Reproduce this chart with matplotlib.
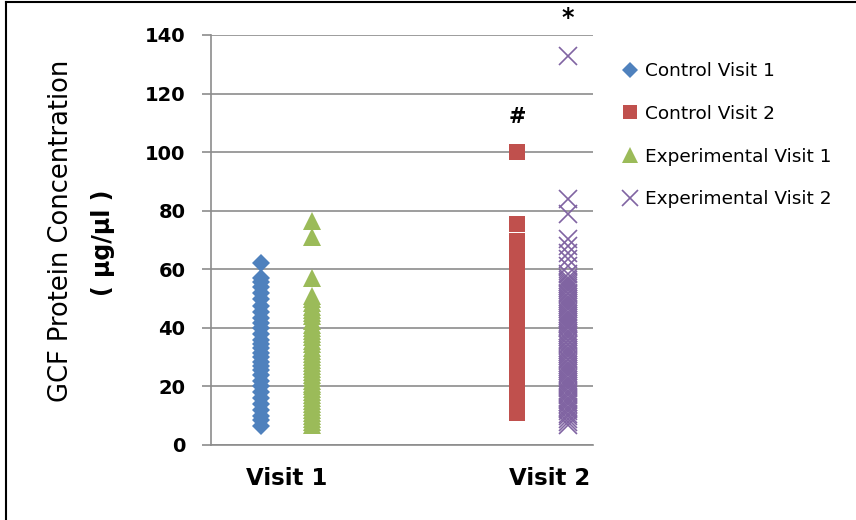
import matplotlib
matplotlib.use("Agg")
import matplotlib.pyplot as plt
from matplotlib.lines import Line2D

# ---- data -------------------------------------------------------------
visit_labels = ["Visit 1", "Visit 2"]
series_names = ["Control Visit 1", "Control Visit 2",
                "Experimental Visit 1", "Experimental Visit 2"]

control_visit1 = [62, 57, 55.5, 54, 52, 50, 47.5, 45.5, 43.5, 41.5, 40, 38,
                  36, 34.5, 33, 31.5, 30, 28.5, 27, 25.5, 24, 22, 20, 18,
                  16, 14, 12, 10, 8.5, 6.5]

control_visit2 = [100, 75.5, 69.8, 67.5, 65, 62.5, 60, 57.5, 55, 52.5, 50,
                  48, 46, 44, 42, 40, 38, 36, 34, 32, 30, 28, 26, 24, 22,
                  20, 18, 16, 14, 12.5, 11]

experimental_visit1 = [76.5, 71, 57, 51, 50, 48.5, 47, 46, 45, 44, 42.5,
                       41, 40, 39, 38, 37, 35.5, 34.5, 33, 32, 31, 30, 29,
                       28, 27, 26, 25, 24, 23, 22, 21, 20, 19, 18, 17, 16,
                       15, 14, 13, 12, 11, 10, 9, 8, 7]

experimental_visit2 = [133, 84, 79, 70.5, 68, 65.5, 63.5, 61, 58.5, 57,
                       56.4, 55.6, 55, 54.3, 53.5, 52.8, 52, 51.4, 50.6, 50,
                       49.2, 48.5, 47.8, 47, 46.3, 45.5, 44.9, 44, 43.4, 42.6,
                       42, 41.2, 40.5, 39.8, 39, 38.3, 37.6, 36.8, 36, 35.4,
                       34.6, 34, 33.2, 32.5, 31.8, 31, 30.3, 29.5, 28.9, 28,
                       27.4, 26.6, 26, 25.2, 24.5, 23.8, 23, 22.3, 21.5, 20.9,
                       20, 19.3, 18.5, 17.8, 17, 16.2, 15.5, 14.7, 14, 13.1,
                       12.3, 11.5, 10.6, 9.8, 9, 8, 7]

# positions of each series along the visit axis
visit_pos = [1.0, 2.0]
offset = 0.1

# ---- styling ----------------------------------------------------------
colors = ["#4F81BD", "#C0504D", "#9BBB59", "#8064A2"]
grid_color = "#8C8C8C"

fig = plt.figure(figsize=(8.56, 5.2), dpi=100)
ax = fig.add_axes([211 / 856, 1 - 445 / 520, 382 / 856, 410 / 520])

ax.set_xlim(0.703, 2.198)
ax.set_ylim(0, 140)

ax.plot([visit_pos[0] - offset] * len(control_visit1), control_visit1,
        linestyle="none", marker="D", markersize=9, color=colors[0],
        markeredgewidth=0, label=series_names[0], zorder=3)
ax.plot([visit_pos[1] - offset] * len(control_visit2), control_visit2,
        linestyle="none", marker="s", markersize=12, color=colors[1],
        markeredgewidth=0, label=series_names[1], zorder=3)
ax.plot([visit_pos[0] + offset] * len(experimental_visit1), experimental_visit1,
        linestyle="none", marker="^", markersize=13, color=colors[2],
        markeredgewidth=0, label=series_names[2], zorder=3)
ax.plot([visit_pos[1] + offset] * len(experimental_visit2), experimental_visit2,
        linestyle="none", marker="x", markersize=13, color=colors[3],
        markeredgewidth=1.2, label=series_names[3], zorder=3)

# significance markers
ax.text(visit_pos[1] - offset, 112, "#", ha="center", va="center",
        fontsize=15, fontweight="bold", clip_on=False)
ax.text(visit_pos[1] + offset, 145.8, "*", ha="center", va="center",
        fontsize=17, fontweight="bold", clip_on=False)

# axes
ax.set_yticks(range(0, 141, 20))
ax.yaxis.grid(True, color=grid_color, linewidth=1.2)
ax.set_axisbelow(True)
for side in ("top", "right"):
    ax.spines[side].set_visible(False)
for side in ("left", "bottom"):
    ax.spines[side].set_color(grid_color)
    ax.spines[side].set_linewidth(1.2)
ax.tick_params(axis="y", direction="out", length=6.5, width=1.2,
               color=grid_color, labelsize=14, pad=12)
for lbl in ax.get_yticklabels():
    lbl.set_fontweight("bold")

ax.set_xticks([visit_pos[0], visit_pos[1] + 0.03])
ax.set_xticklabels(visit_labels, fontsize=16.5, fontweight="bold")
ax.tick_params(axis="x", length=0, pad=16)

# y-axis title in two lines
fig.text(61 / 856, 1 - 231 / 520, "GCF Protein Concentration",
         rotation=90, ha="center", va="center", fontsize=18.5)
fig.text(103 / 856, 1 - 243 / 520, "( \u00b5g/\u00b5l )",
         rotation=90, ha="center", va="center", fontsize=17,
         fontweight="bold")

# legend to the right of the plot
ax.legend(loc="upper left", bbox_to_anchor=(613 / 856, 1 - 55 / 520),
          bbox_transform=fig.transFigure, frameon=False, fontsize=13.3,
          handlelength=1.0, handletextpad=0.35, labelspacing=1.33,
          borderaxespad=0, markerscale=0.85)

# outer frame lines along the left and top edges
fig.add_artist(Line2D([6 / 856, 6 / 856], [0, 1 - 2 / 520],
                      transform=fig.transFigure, color="black", linewidth=1.5))
fig.add_artist(Line2D([6 / 856, 1], [1 - 2 / 520, 1 - 2 / 520],
                      transform=fig.transFigure, color="black", linewidth=1.5))

fig.savefig("out.png", dpi=100)
